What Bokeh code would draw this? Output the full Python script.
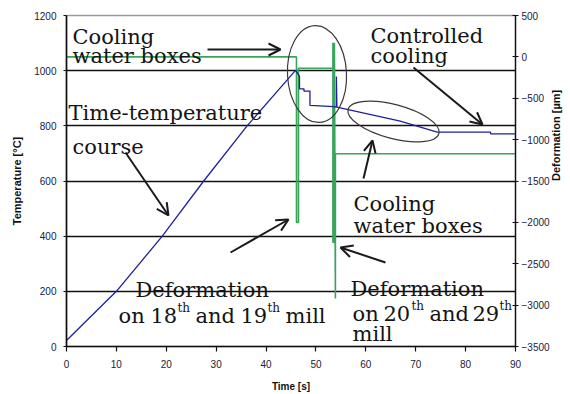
import math
from bokeh.plotting import figure
from bokeh.models import Range1d, LinearAxis, FixedTicker, Label, Arrow, OpenHead
from bokeh.embed import file_html
from bokeh.resources import INLINE

# ---------------- data ----------------
time_tt = [0, 10, 19.2, 27.5, 36.2, 45.9, 46.7, 46.7, 47.6, 47.6, 48.8, 48.8,
           53.6, 54.1, 54.1, 54.2, 66.9, 74.3, 85.0, 85.0, 90]
temp_tt = [22, 200, 400, 600, 800, 1001, 979, 934, 934, 926, 926, 874,
           870, 868, 979, 868, 817, 777, 777, 771, 771]

time_def = [0, 46.1, 46.1, 46.5, 46.5, 53.4, 53.4, 53.4, 53.7, 53.7, 53.9, 53.9, 90]
deform = [0, 0, -2000, -2000, -137, -137, 170, -2240, -2240, 170, -2920, -1170, -1170]

time_ticks = [0, 10, 20, 30, 40, 50, 60, 70, 80, 90]
temp_ticks = [0, 200, 400, 600, 800, 1000, 1200]
temp_grid = [200, 400, 600, 800, 1000]
def_ticks = [-3500, -3000, -2500, -2000, -1500, -1000, -500, 0, 500]

# ---------------- layout helpers (page pixel -> data) ----------------
FRAME_L, FRAME_B, FRAME_W, FRAME_H = 66, 346, 449, 331


def tx(px):
    return (px - FRAME_L) * 90.0 / FRAME_W


def ty(py):
    return (FRAME_B - py) * 1200.0 / FRAME_H


p = figure(width=570, height=394, output_backend="svg", toolbar_location=None,
           x_range=Range1d(0, 90), y_range=Range1d(0, 1200),
           min_border_left=66, min_border_right=55, min_border_top=15, min_border_bottom=48)
p.background_fill_color = "white"
p.border_fill_color = "white"
p.outline_line_color = "#9a9a9a"
p.outline_line_width = 1.5

p.extra_y_ranges = {"def": Range1d(-3500, 500)}
raxis = LinearAxis(y_range_name="def", ticker=FixedTicker(ticks=def_ticks))
p.add_layout(raxis, "right")

tick_col = "#20203a"
for ax in [p.xaxis[0], p.yaxis[0], raxis]:
    ax.major_label_text_font = "Liberation Sans"
    ax.major_label_text_font_size = "10px"
    ax.major_label_text_color = tick_col
    ax.axis_line_color = "#111111"
    ax.axis_line_width = 1.6
    ax.major_tick_line_color = "#111111"
    ax.major_tick_line_width = 1.2
    ax.minor_tick_line_color = None
    ax.axis_label_text_font = "Liberation Sans"
    ax.axis_label_text_font_style = "bold"
    ax.axis_label_text_color = "#111111"

p.xaxis[0].ticker = FixedTicker(ticks=time_ticks)
p.xaxis[0].major_tick_in = 0
p.xaxis[0].major_tick_out = 5
p.xaxis[0].major_label_standoff = 8
p.xaxis[0].axis_label = "Time [s]"
p.xaxis[0].axis_label_text_font_size = "10px"
p.xaxis[0].axis_label_standoff = 10

p.yaxis[0].ticker = FixedTicker(ticks=temp_ticks)
p.yaxis[0].major_tick_in = 0
p.yaxis[0].major_tick_out = 3
p.yaxis[0].major_label_standoff = 7
p.yaxis[0].axis_label = "Temperature [°C]"
p.yaxis[0].axis_label_text_font_size = "11px"
p.yaxis[0].axis_label_standoff = 8

raxis.major_tick_in = 3
raxis.major_tick_out = 3
raxis.major_label_standoff = 3
raxis.axis_line_width = 1.3
raxis.axis_label = "Deformation [µm]"
raxis.axis_label_text_font_size = "11px"
raxis.axis_label_standoff = 3
if "axis_label_orientation" in raxis.properties():
    raxis.axis_label_orientation = math.pi / 2

p.xgrid.visible = False
p.ygrid.ticker = FixedTicker(ticks=temp_grid)
p.ygrid.grid_line_color = "#111111"
p.ygrid.grid_line_width = 1.6

# ---------------- series ----------------
p.line(time_def, deform, y_range_name="def", line_color="#3aa35c", line_width=1.6)
p.line(time_tt, temp_tt, line_color="#1f1fa0", line_width=1.3)

# ---------------- ellipses ----------------
p.ellipse(x=[tx(316.5)], y=[ty(73.5)], width=[59], height=[97],
          width_units="screen", height_units="screen", angle=0.05,
          fill_color=None, line_color="#3a3a3a", line_width=1.2)
p.ellipse(x=[tx(393)], y=[ty(121)], width=[94], height=[34],
          width_units="screen", height_units="screen", angle=-0.26,
          fill_color=None, line_color="#3a3a3a", line_width=1.2)

# ---------------- arrows ----------------
arrows = [((207, 49), (280, 49)),
          ((125, 152), (168, 215)),
          ((413, 67), (482, 124)),
          ((363, 178), (372, 140)),
          ((230, 252), (288, 219)),
          ((385, 262), (340, 247))]
for (x0, y0), (x1, y1) in arrows:
    p.add_layout(Arrow(end=OpenHead(size=12, line_width=2, line_color="#1a1a1a"),
                       x_start=tx(x0), y_start=ty(y0), x_end=tx(x1), y_end=ty(y1),
                       line_width=2, line_color="#1a1a1a"))

# ---------------- annotation texts ----------------
SERIF = "DejaVu Serif"
texts = [
    ("Cooling", 72, 36, 21), ("water boxes", 72, 55, 21),
    ("Time-temperature", 68, 112, 21), ("course", 72, 146, 21),
    ("Controlled", 370, 35, 21), ("cooling", 370, 55, 21),
    ("Cooling", 353, 203, 21), ("water boxes", 353, 225, 21),
    ("Deformation", 135, 289, 21),
    ("on", 118, 315, 21), ("18", 150, 315, 21), ("th", 177, 307, 12),
    ("and", 195, 315, 21), ("19", 240, 315, 21), ("th", 267, 307, 12),
    ("mill", 285, 315, 21),
    ("Deformation", 350, 288, 21),
    ("on", 352, 313, 21), ("20", 383, 313, 21), ("th", 411, 305, 12),
    ("and", 429, 313, 21), ("29", 472, 313, 21), ("th", 499, 305, 12),
    ("mill", 352, 333, 21),
]
for t, x, y, s in texts:
    p.add_layout(Label(x=tx(x), y=ty(y), text=t, text_font=SERIF,
                       text_font_size=f"{s}px", text_color="#141414",
                       text_align="left", text_baseline="alphabetic"))

open("out.html", "w").write(file_html(p, INLINE))
